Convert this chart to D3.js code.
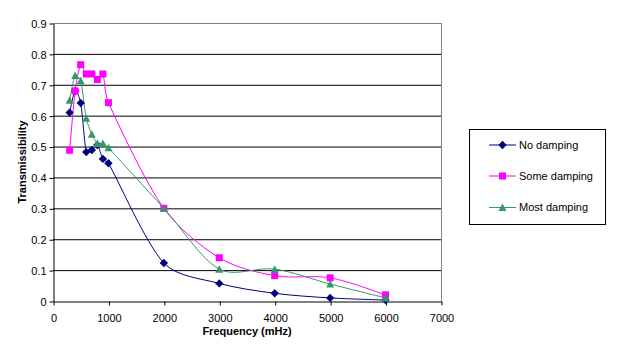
<!DOCTYPE html>
<html><head><meta charset="utf-8">
<script src="https://cdn.jsdelivr.net/npm/d3@7"></script>
<style>body{margin:0;background:#fff}svg{display:block;font-family:"Liberation Sans",Arial,sans-serif}</style>
</head><body><svg id="c" width="628" height="357"></svg>
<script>
const seriesNames = ["No damping", "Some damping", "Most damping"];
const freqNo = [300, 400, 500, 600, 700, 800, 900, 1000, 2000, 3000, 4000, 5000, 6000];
const noDamping = [0.61, 0.68, 0.641, 0.482, 0.489, 0.505, 0.46, 0.446, 0.123, 0.057, 0.025, 0.01, 0.003];
const freqSome = [300, 400, 500, 600, 700, 800, 900, 1000, 2000, 3000, 4000, 5000, 6000];
const someDamping = [0.488, 0.68, 0.765, 0.735, 0.735, 0.717, 0.735, 0.642, 0.3, 0.14, 0.082, 0.075, 0.02];
const freqMost = [300, 400, 500, 600, 700, 800, 900, 1000, 2000, 3000, 4000, 5000, 6000];
const mostDamping = [0.65, 0.73, 0.713, 0.592, 0.54, 0.51, 0.51, 0.496, 0.3, 0.103, 0.103, 0.055, 0.01];
const xTicks = [0, 1000, 2000, 3000, 4000, 5000, 6000, 7000];
const yTicks = [0, 0.1, 0.2, 0.3, 0.4, 0.5, 0.6, 0.7, 0.8, 0.9];
const colors = ["#000080", "#FF00FF", "#339966"];

const diamond = { draw(ctx) { const r = 4.2; ctx.moveTo(0, -r); ctx.lineTo(r, 0); ctx.lineTo(0, r); ctx.lineTo(-r, 0); ctx.closePath(); } };
const square = { draw(ctx) { const r = 3.5; ctx.moveTo(-r, -r); ctx.lineTo(r, -r); ctx.lineTo(r, r); ctx.lineTo(-r, r); ctx.closePath(); } };
const triangle = { draw(ctx) { const w = 4, h = 7; ctx.moveTo(0, -h / 2 - 0.5); ctx.lineTo(w, h / 2); ctx.lineTo(-w, h / 2); ctx.closePath(); } };
const symbols = [diamond, square, triangle];

const svg = d3.select("#c");
const L = 53, R = 441, T = 23, B = 301;
const x = d3.scaleLinear().domain([0, 7000]).range([L, R]);
const y = d3.scaleLinear().domain([0, 0.9]).range([B, T]);

svg.append("g").selectAll("line").data(yTicks.filter(v => v > 0)).join("line")
  .attr("x1", L).attr("x2", R).attr("y1", d => y(d) + 0.5).attr("y2", d => y(d) + 0.5)
  .attr("stroke", d => d === 0.9 ? "#808080" : "#000").attr("stroke-width", 1);
svg.append("line").attr("x1", R + 0.5).attr("x2", R + 0.5).attr("y1", T).attr("y2", B)
  .attr("stroke", "#808080");

const yAxis = d3.axisLeft(y).tickValues(yTicks).tickSize(4).tickSizeOuter(0).tickFormat(d3.format("~g"));
const gy = svg.append("g").attr("transform", `translate(${L + 0.5},0.5)`).call(yAxis);
const xAxis = d3.axisBottom(x).tickValues(xTicks).tickSize(4).tickSizeOuter(0).tickFormat(d3.format("d"));
const gx = svg.append("g").attr("transform", `translate(0.5,${B + 0.5})`).call(xAxis);
[gx, gy].forEach(g => {
  g.selectAll("path,line").attr("stroke", "#000");
  g.selectAll("text").attr("font-size", 11).attr("fill", "#000").attr("font-family", "Liberation Sans, Arial, sans-serif");
});
gx.selectAll("text").attr("dy", "1.2em");
gy.selectAll("text").attr("dy", "0.35em").attr("x", -7);

svg.append("text").attr("x", (L + R) / 2).attr("y", 335).attr("text-anchor", "middle")
  .attr("font-size", 11).attr("font-weight", "bold").text("Frequency (mHz)");
svg.append("text").attr("transform", `translate(26,${(T + B) / 2}) rotate(-90)`).attr("text-anchor", "middle")
  .attr("font-size", 11).attr("font-weight", "bold").text("Transmissibility");

const data = [
  freqNo.map((f, i) => [f, noDamping[i]]),
  freqSome.map((f, i) => [f, someDamping[i]]),
  freqMost.map((f, i) => [f, mostDamping[i]])
];

// Excel-like smoothed line: Bezier with tangent (P[i+1]-P[i-1]), length scaled for uneven segments
function smoothPath(pts) {
  const p = pts.map(d => [x(d[0]), y(d[1])]);
  const n = p.length;
  const dist = (a, b) => Math.hypot(b[0] - a[0], b[1] - a[1]);
  const ctrl = (i, j) => {
    // control point near p[i] heading toward p[j] (j = i±1)
    const prev = p[Math.max(0, i - 1)], next = p[Math.min(n - 1, i + 1)];
    let tx = next[0] - prev[0], ty = next[1] - prev[1];
    const s = j > i ? 1 : -1;
    const segLen = dist(p[i], p[j]);
    const dPrev = dist(prev, p[i]), dNext = dist(p[i], next);
    const avg = (dPrev + dNext) / 2 || 1;
    const k = Math.min(1, segLen / avg) / 6;
    return [p[i][0] + s * tx * k, p[i][1] + s * ty * k];
  };
  const path = d3.path();
  path.moveTo(p[0][0], p[0][1]);
  for (let i = 0; i < n - 1; i++) {
    const c1 = ctrl(i, i + 1), c2 = ctrl(i + 1, i);
    path.bezierCurveTo(c1[0], c1[1], c2[0], c2[1], p[i + 1][0], p[i + 1][1]);
  }
  return path.toString();
}

data.forEach((s, k) => {
  svg.append("path").attr("d", smoothPath(s)).attr("fill", "none").attr("stroke", colors[k]).attr("stroke-width", 1);
});
data.forEach((s, k) => {
  svg.append("g").selectAll("path").data(s).join("path")
    .attr("transform", d => `translate(${x(d[0])},${y(d[1])})`)
    .attr("d", d3.symbol().type(symbols[k])).attr("fill", colors[k]);
});

const lg = svg.append("g");
lg.append("rect").attr("x", 469.5).attr("y", 129.5).attr("width", 136).attr("height", 95)
  .attr("fill", "#fff").attr("stroke", "#000");
const ly = [145, 176, 207.5];
seriesNames.forEach((n, k) => {
  lg.append("line").attr("x1", 489).attr("x2", 516).attr("y1", ly[k]).attr("y2", ly[k]).attr("stroke", colors[k]);
  lg.append("path").attr("transform", `translate(502.5,${ly[k]})`)
    .attr("d", d3.symbol().type(symbols[k])).attr("fill", colors[k]);
  lg.append("text").attr("x", 519).attr("y", ly[k]).attr("dy", "0.35em").attr("font-size", 11).text(n);
});
</script></body></html>
